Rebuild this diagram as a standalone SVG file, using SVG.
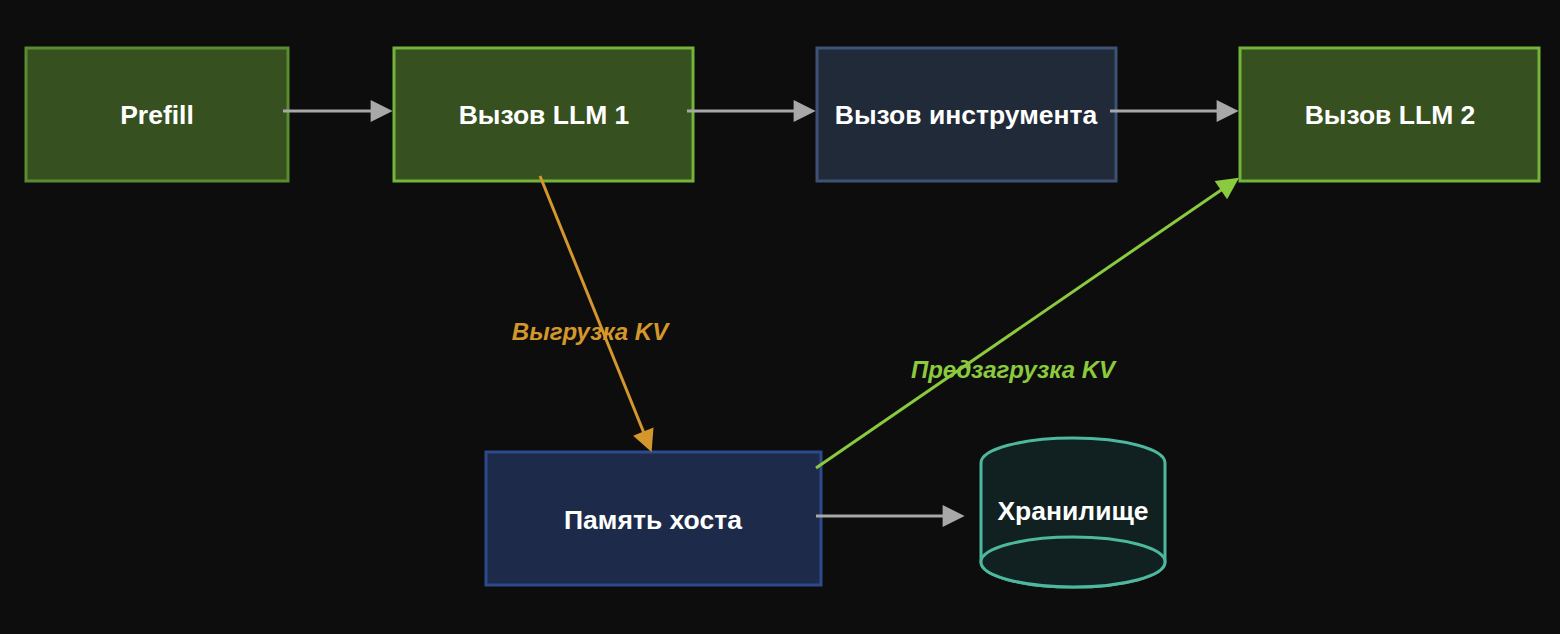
<svg xmlns="http://www.w3.org/2000/svg" width="1560" height="634" viewBox="0 0 1560 634">
  <style>
    .lbl { font-family: "Liberation Sans", Arial, sans-serif; font-weight: bold; font-size: 26.5px; fill: #ffffff; text-anchor: middle; }
    .elbl { font-family: "Liberation Sans", Arial, sans-serif; font-weight: bold; font-style: italic; font-size: 24px; text-anchor: middle; }
    .green { fill: #36501f; stroke-width: 3; }
    .edge { fill: none; stroke-width: 3; }
  </style>
  <defs>
    <marker id="ahGray" viewBox="0 0 10 10" refX="7" refY="5" markerWidth="26" markerHeight="22" markerUnits="userSpaceOnUse" orient="auto">
      <path d="M0,0 L10,5 L0,10 z" fill="#a8a8a8"/>
    </marker>
    <marker id="ahOrange" viewBox="0 0 10 10" refX="7" refY="5" markerWidth="26" markerHeight="22" markerUnits="userSpaceOnUse" orient="auto">
      <path d="M0,0 L10,5 L0,10 z" fill="#d4972b"/>
    </marker>
    <marker id="ahGreen" viewBox="0 0 10 10" refX="7" refY="5" markerWidth="26" markerHeight="22" markerUnits="userSpaceOnUse" orient="auto">
      <path d="M0,0 L10,5 L0,10 z" fill="#8bc93e"/>
    </marker>
  </defs>
  <rect x="0" y="0" width="1560" height="634" fill="#0d0d0d"/>

  <g id="prefill">
    <rect class="green" x="26" y="48" width="262" height="133" stroke="#5a8b30"/>
    <text class="lbl" x="157" y="124">Prefill</text>
  </g>
  <g id="llm1">
    <rect class="green" x="394" y="48" width="299" height="133" stroke="#72b53a"/>
    <text class="lbl" x="544" y="124">Вызов LLM 1</text>
  </g>
  <g id="tool">
    <rect x="817" y="48" width="299" height="133" fill="#212a39" stroke="#3e5275" stroke-width="3"/>
    <text class="lbl" x="966" y="124">Вызов инструмента</text>
  </g>
  <g id="llm2">
    <rect class="green" x="1240" y="48" width="299" height="133" stroke="#72b53a"/>
    <text class="lbl" x="1390" y="124">Вызов LLM 2</text>
  </g>
  <g id="host">
    <rect x="486" y="452" width="335" height="133" fill="#1e2a4a" stroke="#2d4a8c" stroke-width="3"/>
    <text class="lbl" x="653" y="529">Память хоста</text>
  </g>
  <g id="storage">
    <path d="M981,463 A92,25 0 0 1 1165,463 L1165,562 A92,25 0 0 1 981,562 Z" fill="#112020" stroke="#4cb89d" stroke-width="3"/>
    <ellipse cx="1073" cy="562" rx="92" ry="25" fill="#112020" stroke="#4cb89d" stroke-width="3"/>
    <text class="lbl" x="1073" y="520">Хранилище</text>
  </g>

  <g id="connectors">
    <line class="edge" x1="283" y1="111" x2="386" y2="111" stroke="#a8a8a8" marker-end="url(#ahGray)"/>
    <line class="edge" x1="687" y1="111" x2="809" y2="111" stroke="#a8a8a8" marker-end="url(#ahGray)"/>
    <line class="edge" x1="1110" y1="111" x2="1232" y2="111" stroke="#a8a8a8" marker-end="url(#ahGray)"/>
    <line class="edge" x1="816" y1="516" x2="958" y2="516" stroke="#a8a8a8" marker-end="url(#ahGray)"/>
    <line class="edge" x1="540" y1="176" x2="649.1" y2="445.8" stroke="#d4972b" marker-end="url(#ahOrange)"/>
    <line class="edge" x1="816" y1="468" x2="1233.6" y2="181.4" stroke="#8bc93e" marker-end="url(#ahGreen)"/>
    <text class="elbl" x="590" y="340" fill="#d4972b">Выгрузка KV</text>
    <text class="elbl" x="1013" y="378" fill="#8bc93e">Предзагрузка KV</text>
  </g>
</svg>
